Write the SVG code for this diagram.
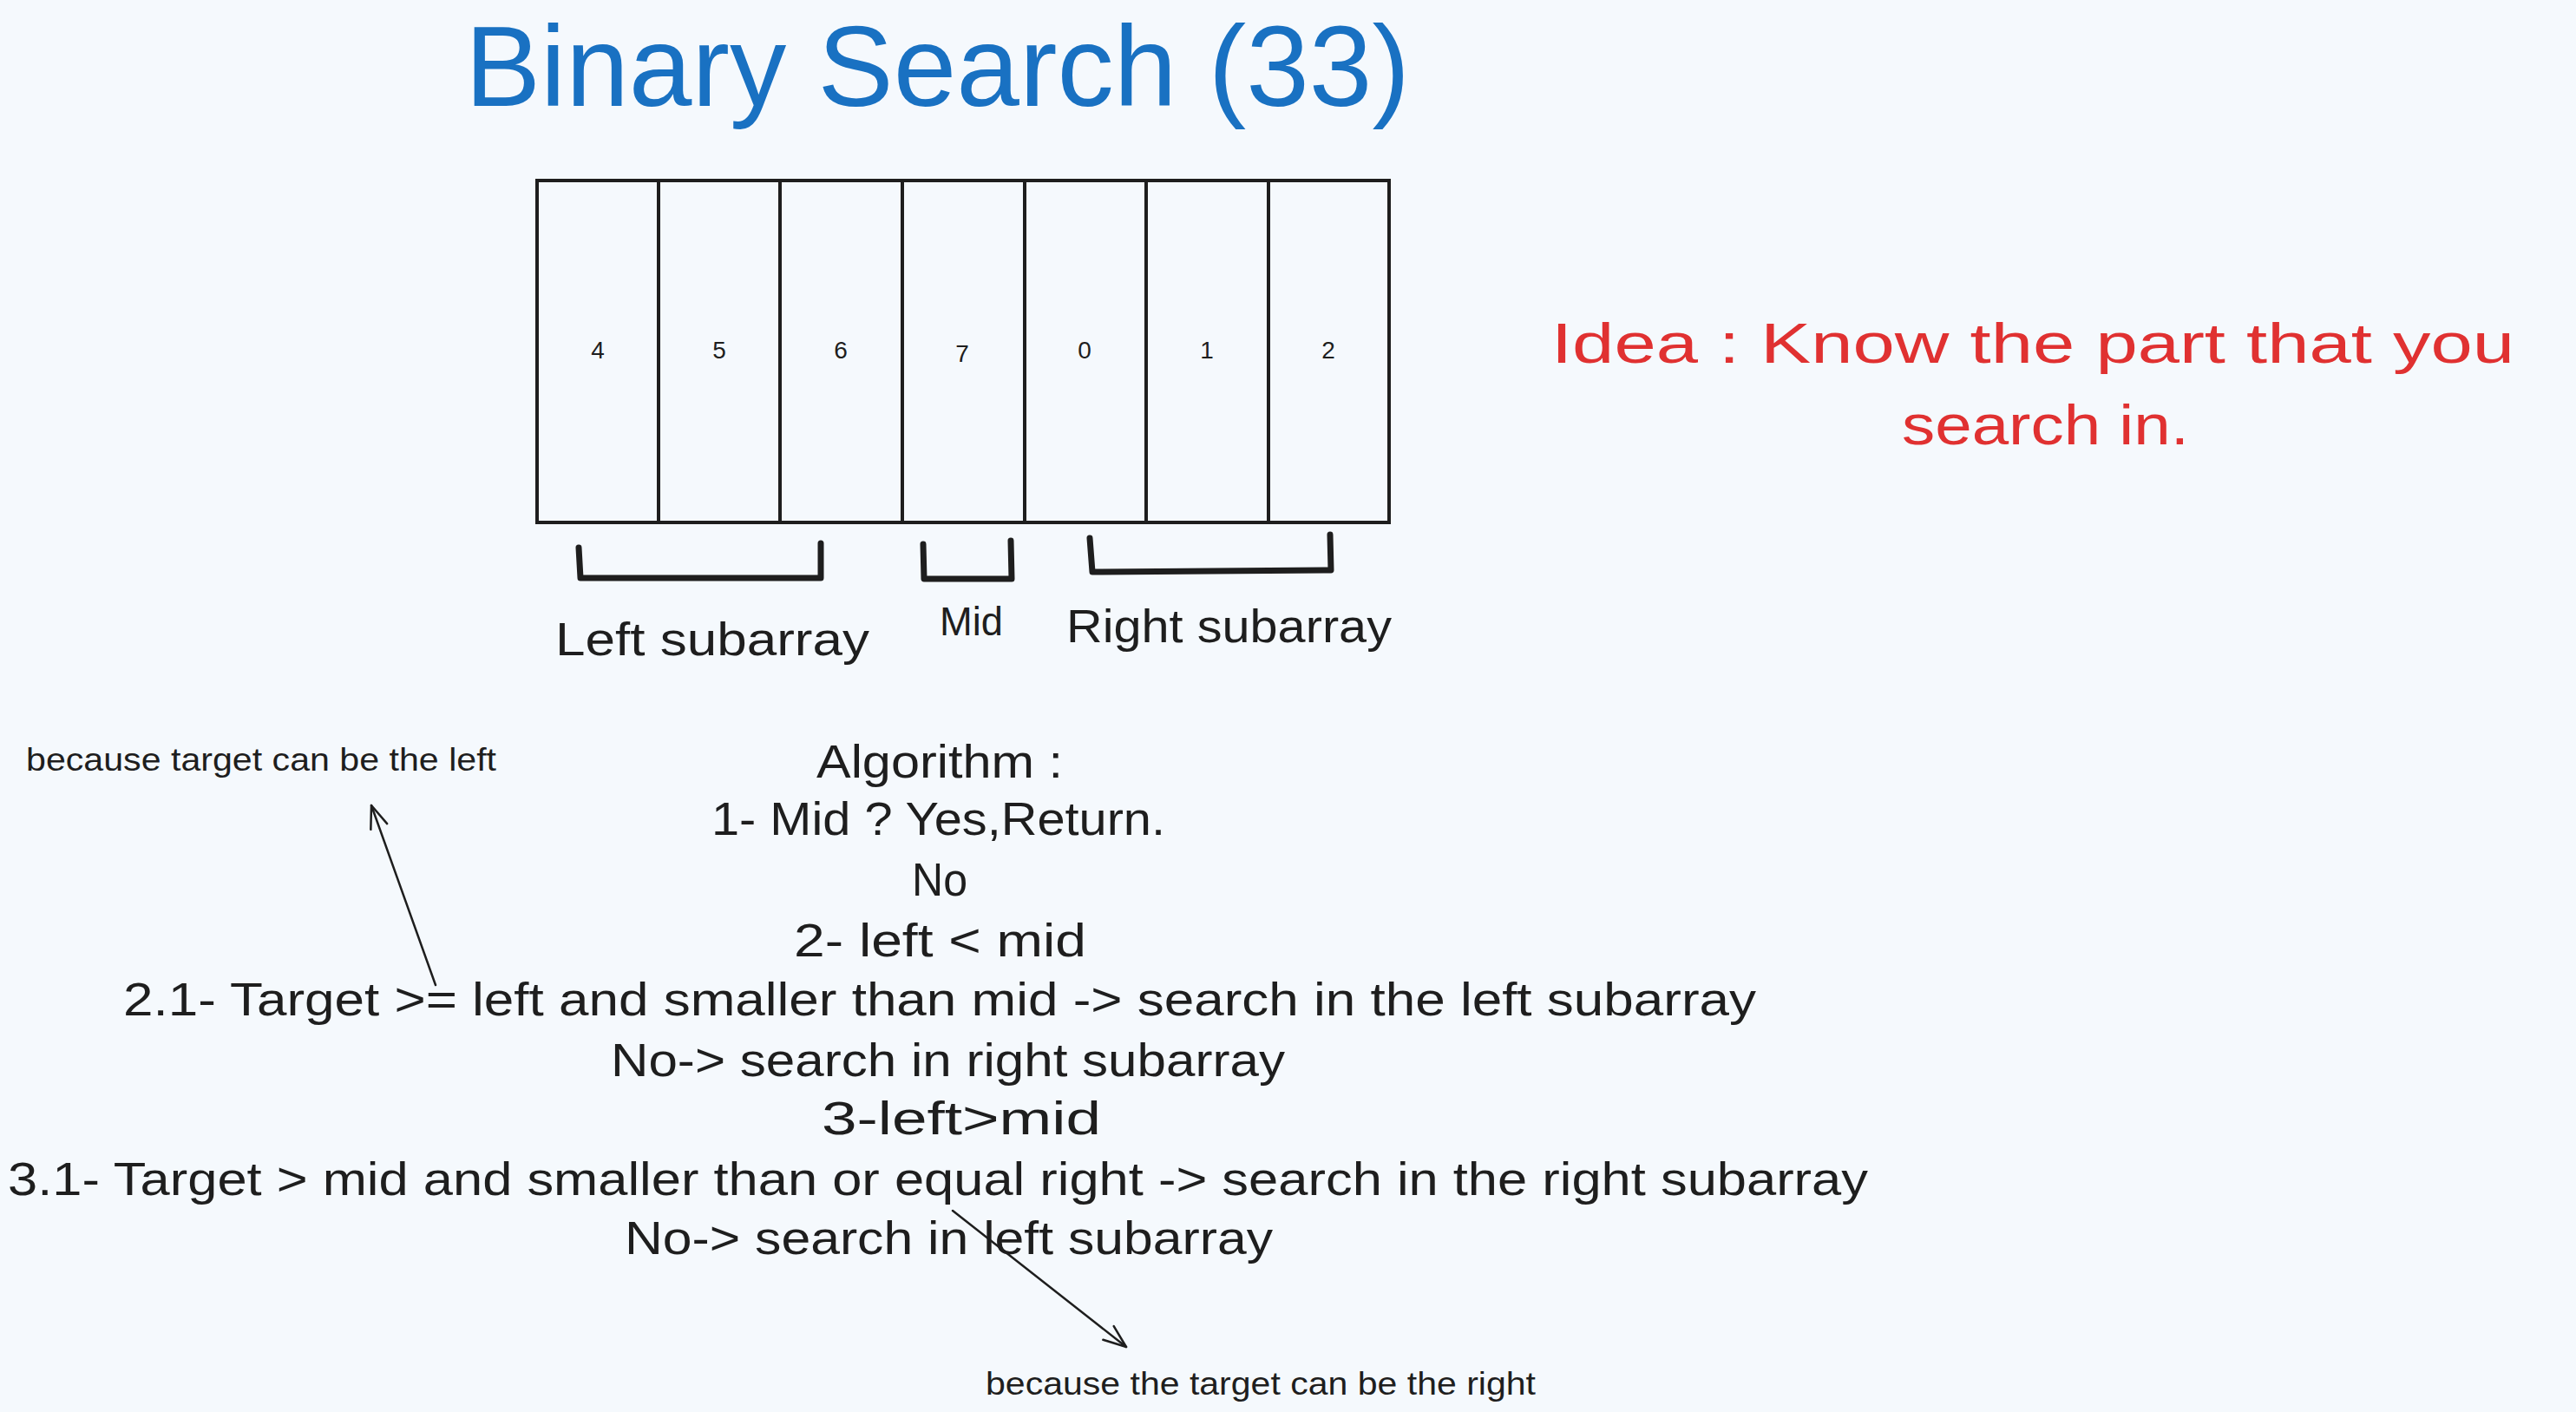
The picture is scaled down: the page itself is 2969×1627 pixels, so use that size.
<svg xmlns="http://www.w3.org/2000/svg" width="2969" height="1627" viewBox="0 0 2969 1627">
<style>
  .t{font-family:"Liberation Sans",Arial,sans-serif;fill:#1e1e1e}
  .cell{fill:none;stroke:#1e1e1e;stroke-width:4}
  .num{font-size:28px;text-anchor:middle}
  .br{fill:none;stroke:#1e1e1e;stroke-width:7;stroke-linecap:round;stroke-linejoin:round}
  .alg{font-size:54px}
  .note{font-size:36px}
  .conn{fill:none;stroke:#1e1e1e;stroke-width:2.5;stroke-linecap:round}
</style>
<defs>
  <marker id="ah" markerUnits="userSpaceOnUse" viewBox="0 0 30 24" refX="28" refY="12" markerWidth="30" markerHeight="24" orient="auto">
    <path d="M2,2 L28,12 L2,22" fill="none" stroke="#1e1e1e" stroke-width="2.5" stroke-linecap="round" stroke-linejoin="round"/>
  </marker>
</defs>
<rect x="0" y="0" width="2969" height="1627" fill="#f5f9fd"/>

<g id="title">
  <text class="t" x="536" y="122" font-size="132" textLength="1089" lengthAdjust="spacingAndGlyphs" style="fill:#1971c2">Binary Search (33)</text>
</g>

<g id="array">
  <g id="cell-0"><rect class="cell" x="619" y="208" width="140" height="394"/><text class="t num" x="689" y="413">4</text></g>
  <g id="cell-1"><rect class="cell" x="759" y="208" width="140" height="394"/><text class="t num" x="829" y="413">5</text></g>
  <g id="cell-2"><rect class="cell" x="899" y="208" width="141" height="394"/><text class="t num" x="969" y="413">6</text></g>
  <g id="cell-3"><rect class="cell" x="1040" y="208" width="141" height="394"/><text class="t num" x="1109" y="417">7</text></g>
  <g id="cell-4"><rect class="cell" x="1181" y="208" width="140" height="394"/><text class="t num" x="1250" y="413">0</text></g>
  <g id="cell-5"><rect class="cell" x="1321" y="208" width="141" height="394"/><text class="t num" x="1391" y="413">1</text></g>
  <g id="cell-6"><rect class="cell" x="1462" y="208" width="139" height="394"/><text class="t num" x="1531" y="413">2</text></g>
</g>

<g id="bracket-left"><path class="br" d="M667,631 L669,666 L946,666 L946,626"/></g>
<g id="bracket-mid"><path class="br" d="M1064,627 L1065,667 L1166,667 L1165,623"/></g>
<g id="bracket-right"><path class="br" d="M1256,620 L1259,659 L1534,657 L1533,616"/></g>

<g id="label-left"><text class="t" x="640" y="755" font-size="54" textLength="362" lengthAdjust="spacingAndGlyphs">Left subarray</text></g>
<g id="label-mid"><text class="t" x="1083" y="732" font-size="46" textLength="73" lengthAdjust="spacingAndGlyphs">Mid</text></g>
<g id="label-right"><text class="t" x="1229" y="740" font-size="54" textLength="375" lengthAdjust="spacingAndGlyphs">Right subarray</text></g>

<g id="idea">
  <text class="t" x="1788" y="418" font-size="64" textLength="1110" lengthAdjust="spacingAndGlyphs" style="fill:#e03131">Idea : Know the part that you</text>
  <text class="t" x="2192" y="512" font-size="64" textLength="331" lengthAdjust="spacingAndGlyphs" style="fill:#e03131">search in.</text>
</g>

<g id="algorithm">
  <text class="t alg" x="941" y="896" textLength="284" lengthAdjust="spacingAndGlyphs">Algorithm :</text>
  <text class="t alg" x="820" y="962" textLength="523" lengthAdjust="spacingAndGlyphs">1- Mid ? Yes,Return.</text>
  <text class="t alg" x="1051" y="1032" textLength="64" lengthAdjust="spacingAndGlyphs">No</text>
  <text class="t alg" x="915" y="1102" textLength="337" lengthAdjust="spacingAndGlyphs">2- left &lt; mid</text>
  <text class="t alg" x="142" y="1170" textLength="1882" lengthAdjust="spacingAndGlyphs">2.1- Target &gt;= left and smaller than mid -&gt; search in the left subarray</text>
  <text class="t alg" x="704" y="1240" textLength="777" lengthAdjust="spacingAndGlyphs">No-&gt; search in right subarray</text>
  <text class="t alg" x="947" y="1307" textLength="322" lengthAdjust="spacingAndGlyphs">3-left&gt;mid</text>
  <text class="t alg" x="9" y="1377" textLength="2144" lengthAdjust="spacingAndGlyphs">3.1- Target &gt; mid and smaller than or equal right -&gt; search in the right subarray</text>
  <text class="t alg" x="720" y="1445" textLength="747" lengthAdjust="spacingAndGlyphs">No-&gt; search in left subarray</text>
</g>

<g id="note-left"><text class="t note" x="30" y="888" textLength="542" lengthAdjust="spacingAndGlyphs">because target can be the left</text></g>
<g id="note-right"><text class="t note" x="1136" y="1607" textLength="634" lengthAdjust="spacingAndGlyphs">because the target can be the right</text></g>

<g id="connectors">
  <path class="conn" d="M502,1135 L428,928" marker-end="url(#ah)"/>
  <path class="conn" d="M1098,1395 L1298,1552" marker-end="url(#ah)"/>
</g>
</svg>
